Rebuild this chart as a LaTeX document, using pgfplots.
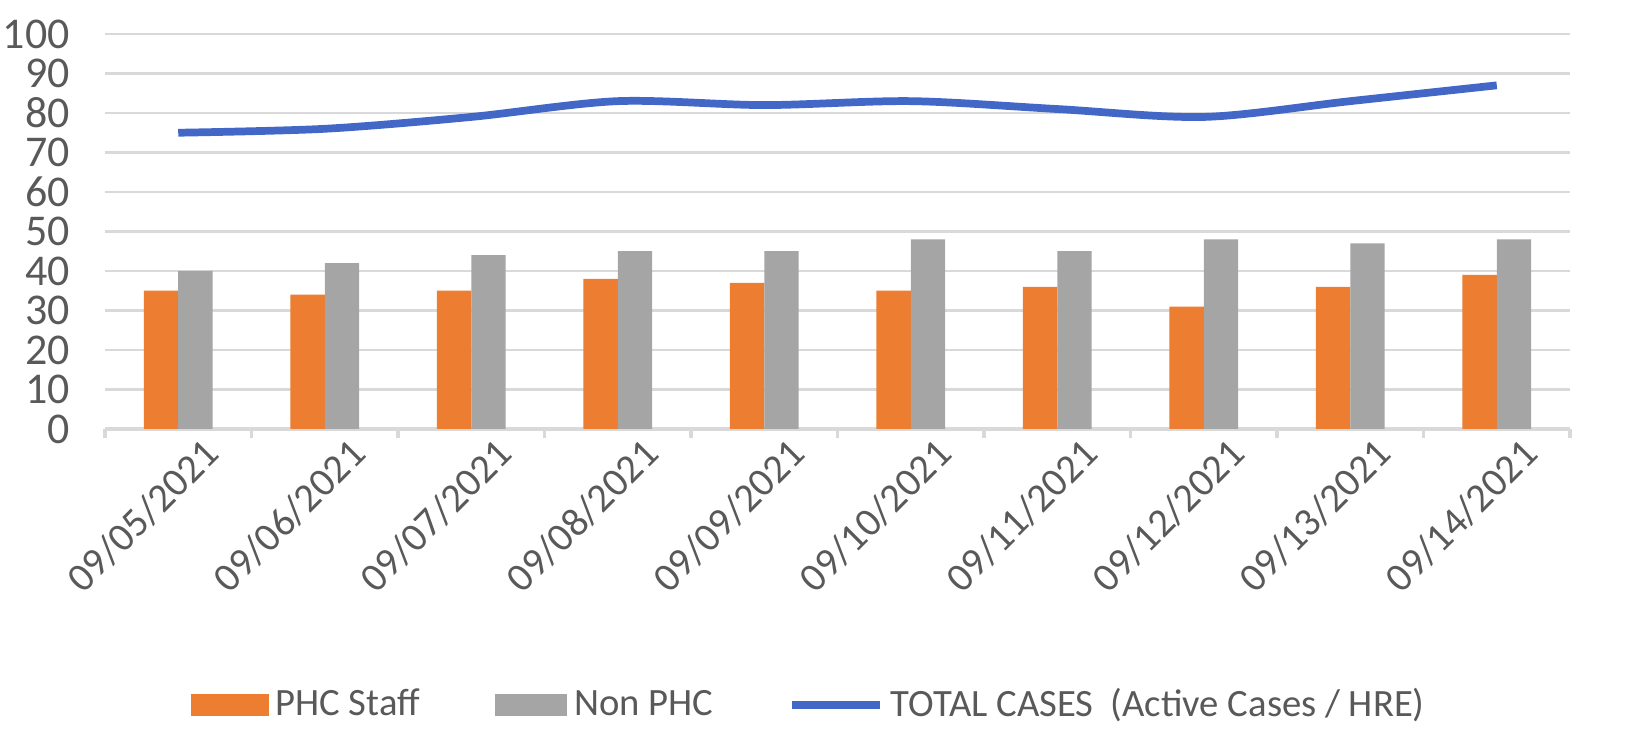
\documentclass[border=0pt]{standalone}
\usepackage{fontspec}
\setmainfont{Carlito}
\usepackage{pgfplots}
\usepackage{pgfplotstable}
\pgfplotsset{compat=1.18}

\definecolor{phc}{HTML}{ED7D31}
\definecolor{nonphc}{HTML}{A5A5A5}
\definecolor{total}{HTML}{4267C6}
\definecolor{gridc}{HTML}{D9D9D9}
\definecolor{txt}{HTML}{595959}

% daily counts, 09/05 to 09/14
\pgfplotstableread{
x phc non total
0 35 40 75
1 34 42 76
2 35 44 79
3 38 45 83
4 37 45 82
5 35 48 83
6 36 45 81
7 31 48 79
8 36 47 83
9 39 48 87
}\cases

\begin{document}
\begin{tikzpicture}
\begin{axis}[
    scale only axis,
    width=14.65cm, height=3.95cm,
    xmin=-0.5, xmax=9.5,
    ymin=0, ymax=100,
    axis x line*=bottom,
    axis y line*=left,
    y axis line style={draw=none},
    x axis line style={draw=gridc, line width=0.9pt},
    ytick={0,10,...,100},
    ymajorgrids,
    major grid style={draw=gridc, line width=0.8pt},
    ytick style={draw=none},
    xtick={0,...,9},
    xticklabels={09/05/2021,09/06/2021,09/07/2021,09/08/2021,09/09/2021,09/10/2021,09/11/2021,09/12/2021,09/13/2021,09/14/2021},
    major x tick style={draw=none},
    minor xtick={-0.5,0.5,...,9.5},
    minor x tick style={draw=gridc, line width=0.9pt},
    minor tick length=0.09cm,
    tick align=outside,
    /pgf/number format/assume math mode=true,
    tick label style={font=\fontsize{11.5}{14}\selectfont, text=txt},
    yticklabel style={font=\fontsize{12.5}{14}\selectfont, xshift=-0.08cm},
    xticklabel style={rotate=45, anchor=east, xshift=0.34cm, yshift=-0.26cm},
    legend columns=3,
    legend cell align=left,
    legend style={draw=none, at={(0.482,-0.699)}, anchor=center,
        font=\fontsize{11}{13}\selectfont, text=txt,
        /tikz/every even column/.append style={column sep=0.68cm}},
]
\coordinate (o) at (rel axis cs:0,0);
\addplot[ybar, bar width=0.235, bar shift=-0.1175, fill=phc, draw=none,
    legend image code/.code={\fill[phc] (0cm,-0.11cm) rectangle (0.78cm,0.11cm);}]
    table[x=x, y=phc] {\cases};
\addlegendentry{PHC Staff}
\addplot[ybar, bar width=0.235, bar shift=0.1175, fill=nonphc, draw=none,
    legend image code/.code={\fill[nonphc] (0cm,-0.11cm) rectangle (0.72cm,0.11cm);}]
    table[x=x, y=non] {\cases};
\addlegendentry{Non PHC}
\addplot[total, line width=2.2pt, smooth, tension=0.5, mark=none,
    legend image code/.code={\draw[total, line width=2.2pt] (0cm,0cm) -- (0.88cm,0cm);}]
    table[x=x, y=total] {\cases};
\addlegendentry{TOTAL CASES\ \ (Active Cases / HRE)}
\end{axis}
\pgfresetboundingbox
\useasboundingbox (o) ++(-1.05cm,-3.05cm) rectangle ++(16.5cm,7.34cm);
\end{tikzpicture}
\end{document}
